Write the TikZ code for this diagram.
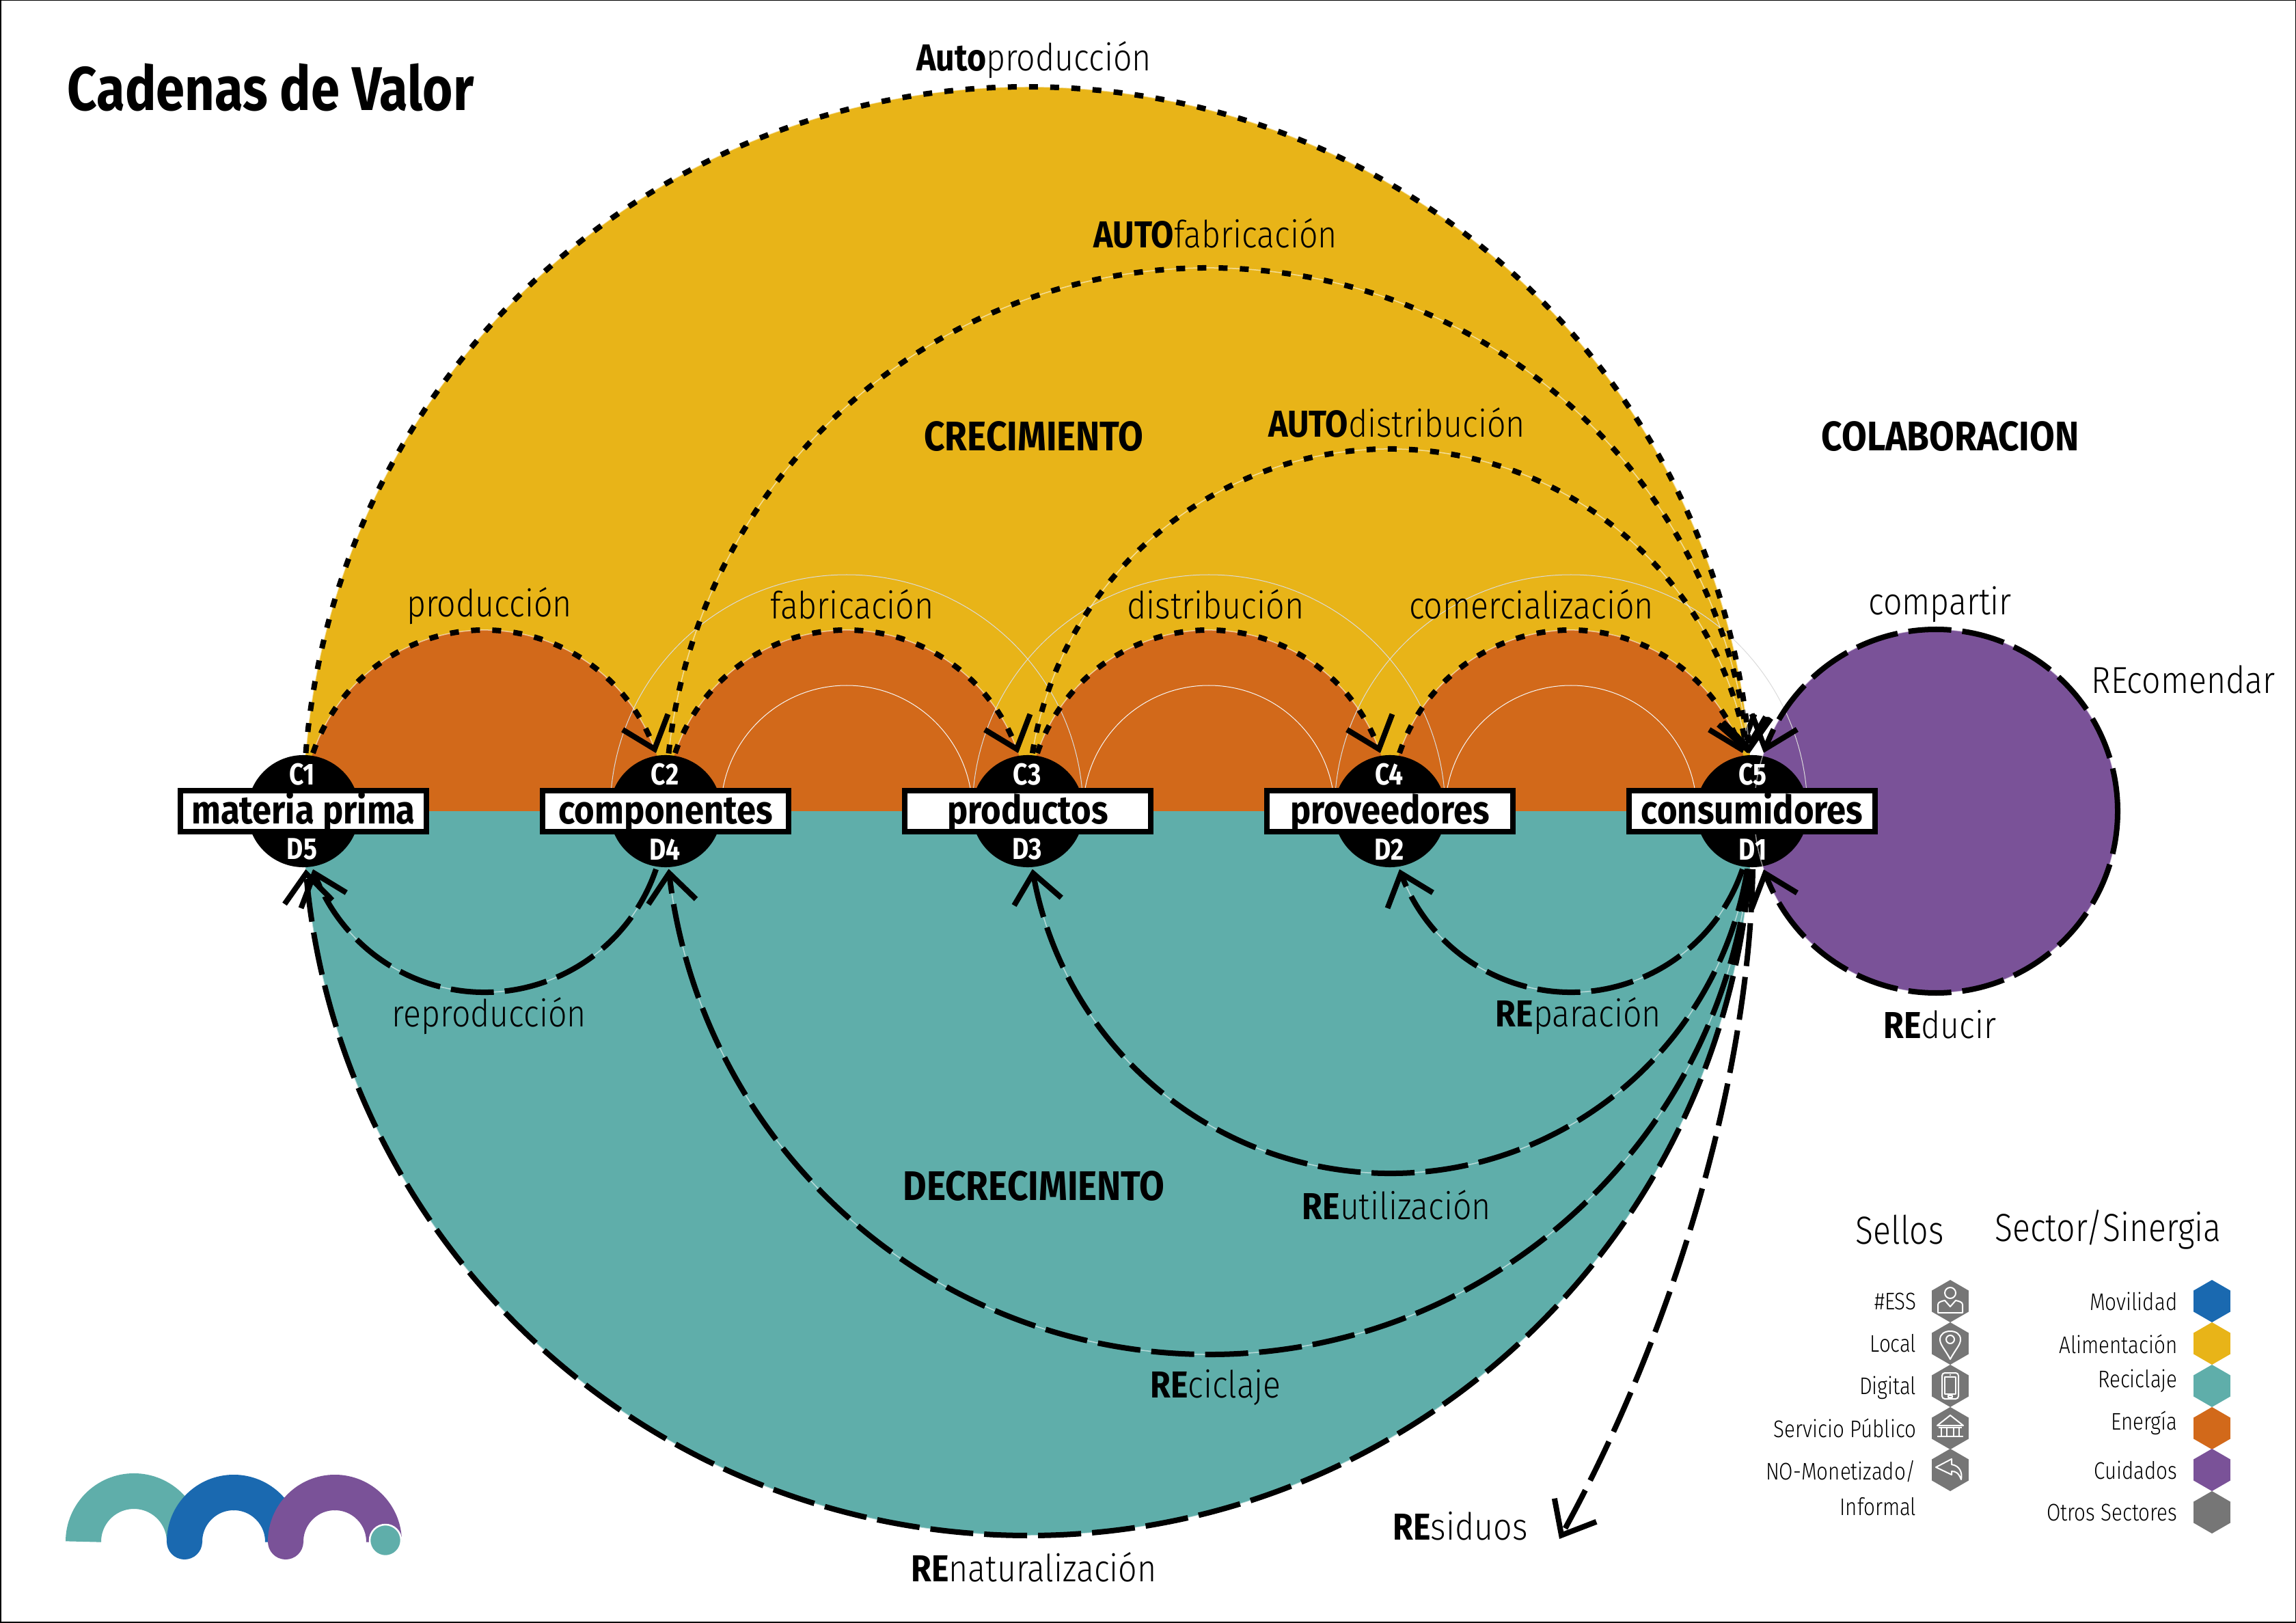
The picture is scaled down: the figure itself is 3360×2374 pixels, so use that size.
\documentclass[tikz,border=0pt]{standalone}
\usepackage{fontspec}
\usetikzlibrary{arrows.meta,bending,calc,shapes.geometric}
\newfontfamily\ltf[UprightFont={* Light},FakeStretch=0.88]{Fira Sans}
\newfontfamily\ltn[UprightFont={* Light},FakeStretch=0.84]{Fira Sans}
\newfontfamily\bdf[UprightFont={* Bold},FakeStretch=0.88]{Fira Sans}
\newfontfamily\bdn[UprightFont={* Bold},FakeStretch=0.84]{Fira Sans}
\newcommand{\B}[1]{{\bdf #1}}
\definecolor{cyel}{HTML}{E8B418}
\definecolor{cora}{HTML}{D2691A}
\definecolor{cteal}{HTML}{5FAEAA}
\definecolor{cpur}{HTML}{7A5298}
\definecolor{cblu}{HTML}{1A69B0}
\definecolor{cgra}{HTML}{767676}
\newcommand{\pxfont}[1]{\fontsize{#1}{#1}\selectfont}
% arc between the centres of two named nodes, trimmed to the node circle
\newcommand{\hubarc}[6]{%
  \draw[pale] ($(#1)!.5!(#2)+(#4:#3)$) arc[start angle=#4,end angle=#5,radius=#3];
  \draw[#6] ($(#1)!.5!(#2)+(#4:#3)$) arc[start angle=#4,end angle=#5,radius=#3];}
\tikzset{
  pale/.style={draw=white,draw opacity=.55,line width=.15mm},
  faint/.style={draw=#1,line width=.1mm},
  faint/.default={black!14},
  dotarc/.style={line width=.8mm,dash pattern=on 1.3mm off 1.8mm,-{Straight Barb[length=4.2mm,width=7mm,line width=.8mm]}},
  dasharc/.style={line width=.8mm,dash pattern=on 6.3mm off 1.6mm,-{Straight Barb[length=4.2mm,width=7mm,line width=.8mm]}},
  hub/.style={circle,fill=black,minimum size=1.64cm,inner sep=0pt},
  hublbl/.style={text=white,font=\bdn\pxfont{12.6},inner sep=0pt},
  boxn/.style={draw=black,fill=white,line width=.8mm,minimum width=3.6cm,minimum height=.6cm,inner sep=0pt,text height=.42cm,text depth=.06cm,font=\bdf\pxfont{16.4}},
  lbl/.style={font=\ltf\pxfont{15.6},text=black,inner sep=0pt},
  head/.style={font=\bdf\pxfont{17.2},text=black,inner sep=0pt},
  leg/.style={font=\ltn\pxfont{10},text=black,inner sep=0pt,anchor=east},
  ttl/.style={font=\ltn\pxfont{16.3},text=black,inner sep=0pt},
  hexn/.style={regular polygon,regular polygon sides=6,shape border rotate=30,minimum size=.62cm,inner sep=0pt,fill=#1},
  icon/.style={draw=white,line width=.2mm,line join=round},
  ring/.style={line width=.52cm}
}
\begin{document}
\begin{tikzpicture}[x=.01cm,y=.01cm]
\useasboundingbox (0,0) rectangle (3360,2374);
\fill[white] (0,0) rectangle (3360,2374);
\draw[black,line width=.3mm] (0,0) rectangle (3360,2374);
\coordinate (p1) at (444,1187);
\coordinate (p2) at (974,1187);
\coordinate (p3) at (1504,1187);
\coordinate (p4) at (2034,1187);
\coordinate (p5) at (2564,1187);
\coordinate (pc) at (2833,1187);
% areas
\fill[cyel] (p1) arc[start angle=180,end angle=0,radius=1060] -- cycle;
\fill[cora] (p1) arc[start angle=180,end angle=0,radius=265] -- cycle;
\fill[cora] (p2) arc[start angle=180,end angle=0,radius=265] -- cycle;
\fill[cora] (p3) arc[start angle=180,end angle=0,radius=265] -- cycle;
\fill[cora] (p4) arc[start angle=180,end angle=0,radius=265] -- cycle;
\fill[cteal] (p1) arc[start angle=180,end angle=360,radius=1060] -- cycle;
\fill[cpur] (pc) circle[radius=266];
% faint construction arcs
\foreach \a/\b in {p2/p3,p3/p4,p4/p5}{
  \draw[faint] ($(\a)!.5!(\b)+(180:346)$) arc[start angle=180,end angle=0,radius=346];
  \draw[faint=white!65!black!10] ($(\a)!.5!(\b)+(180:184)$) arc[start angle=180,end angle=0,radius=184];
}
% hubs
\node[hub] (n1) at (p1) {};
\node[hub] (n2) at (p2) {};
\node[hub] (n3) at (p3) {};
\node[hub] (n4) at (p4) {};
\node[hub] (n5) at (p5) {};
% growth arcs (dotted)
\hubarc{n1}{n2}{265}{161.3}{18.7}{dotarc}
\hubarc{n2}{n3}{265}{161.3}{18.7}{dotarc}
\hubarc{n3}{n4}{265}{161.3}{18.7}{dotarc}
\hubarc{n4}{n5}{265}{161.3}{18.7}{dotarc}
\hubarc{n3}{n5}{530}{170.8}{9.2}{dotarc}
\hubarc{n2}{n5}{795}{173.9}{6.1}{dotarc}
\hubarc{n1}{n5}{1060}{175.4}{4.6}{dotarc}
% degrowth arcs (dashed)
\hubarc{n1}{n2}{265}{-18.7}{-161.3}{dasharc}
\hubarc{n4}{n5}{265}{-18.7}{-161.3}{dasharc}
\hubarc{n3}{n5}{530}{-9.2}{-170.8}{dasharc}
\hubarc{n2}{n5}{795}{-6.1}{-173.9}{dasharc}
\hubarc{n1}{n5}{1060}{-4.6}{-175.4}{dasharc}
% collaboration circle
\draw[pale] (pc) circle[radius=266];
\draw[dasharc] ($(pc)+(0:266)$) arc[start angle=0,end angle=161.3,radius=266];
\draw[dasharc] ($(pc)+(0:266)$) arc[start angle=0,end angle=-161.3,radius=266];
% residuos
\coordinate (res) at (2282,122);
\draw[dasharc] ($(n5)+(1,-85)$) .. controls (2560,800) and (2450,424) .. (res);
% boxes
\node[boxn] (b1) at (p1) {materia prima};
\node[boxn] (b2) at (p2) {componentes};
\node[boxn] (b3) at (p3) {productos};
\node[boxn] (b4) at (p4) {proveedores};
\node[boxn] (b5) at (p5) {consumidores};
\node[hublbl] (c1) at (442,1241) {C1};
\node[hublbl] (c2) at (973,1241) {C2};
\node[hublbl] (c3) at (1503,1241) {C3};
\node[hublbl] (c4) at (2033,1241) {C4};
\node[hublbl] (c5) at (2565,1241) {C5};
\node[hublbl] (d5) at (442,1131) {D5};
\node[hublbl] (d4) at (973,1131) {D4};
\node[hublbl] (d3) at (1503,1131) {D3};
\node[hublbl] (d2) at (2033,1131) {D2};
\node[hublbl] (d1) at (2565,1131) {D1};
% text
\node[font=\bdn\pxfont{25.7},inner sep=0pt] (title) at (396,2246) {Cadenas de Valor};
\node[lbl] (t1) at (1513,2286) {\B{Auto}producción};
\node[lbl] (t2) at (1779,2032) {\B{AUTO}fabricación};
\node[lbl] (t3) at (2044,1755) {\B{AUTO}distribución};
\node[head] (t4) at (1513,1735) {CRECIMIENTO};
\node[head] (t5) at (2854,1735) {COLABORACION};
\node[lbl] (t6) at (716,1487) {producción};
\node[lbl] (t7) at (1247,1490) {fabricación};
\node[lbl] (t8) at (1779,1490) {distribución};
\node[lbl] (t9) at (2241,1490) {comercialización};
\node[lbl] (t10) at (2839,1490) {compartir};
\node[lbl] (t11) at (3195,1380) {REcomendar};
\node[lbl] (t12) at (2839,875) {\B{RE}ducir};
\node[lbl] (t13) at (716,887) {reproducción};
\node[lbl] (t14) at (2310,887) {\B{RE}paración};
\node[head] (t15) at (1513,638) {DECRECIMIENTO};
\node[lbl] (t16) at (2044,611) {\B{RE}utilización};
\node[lbl] (t17) at (1779,344) {\B{RE}ciclaje};
\node[lbl] (t18) at (1513,81) {\B{RE}naturalización};
\node[lbl] (t19) at (2137,141) {\B{RE}siduos};
% legend
\node[ttl] (s1) at (2780,574) {Sellos};
\node[ttl] (s2) at (3085,575) {Sector/Sinergia};
\foreach \n/\y/\t in {a/470/\#ESS,b/408/Local,c/343/Digital,d/284/Servicio Público,e/221/{NO-Monetizado/},f/169/Informal}
  \node[leg] (l\n) at (2805,\y) {\t};
\foreach \n/\y/\t in {a/470/Movilidad,b/407/Alimentación,c/353/Reciclaje,d/292/Energía,e/223/Cuidados,f/161/Otros Sectores}
  \node[leg] (r\n) at (3187,\y) {\t};
\node[hexn=cgra] (h1) at (2854,470) {};
\node[hexn=cgra] (h2) at (2854,408) {};
\node[hexn=cgra] (h3) at (2854,346) {};
\node[hexn=cgra] (h4) at (2854,284) {};
\node[hexn=cgra] (h5) at (2854,223) {};
\node[hexn=cblu] (k1) at (3237,470) {};
\node[hexn=cyel] (k2) at (3237,408) {};
\node[hexn=cteal] (k3) at (3237,346) {};
\node[hexn=cora] (k4) at (3237,284) {};
\node[hexn=cpur] (k5) at (3237,223) {};
\node[hexn=cgra] (k6) at (3237,161) {};
% icons
\begin{scope}[shift={(h1.center)}]
 \draw[icon] (0,12) ellipse[x radius=8,y radius=8];
 \draw[icon] (-18,-17) -- (18,-17) -- (18,-5) .. controls (18,-1) and (12,0) .. (8,1) -- (0,-8) -- (-8,1) .. controls (-12,0) and (-18,-1) .. (-18,-5) -- cycle;
\end{scope}
\begin{scope}[shift={(h2.center)}]
 \draw[icon] (0,-23) .. controls (-8,-8) and (-15,-2) .. (-15,6) .. controls (-15,14) and (-8,18) .. (0,18) .. controls (8,18) and (15,14) .. (15,6) .. controls (15,-2) and (8,-8) .. (0,-23) -- cycle;
 \draw[icon] (0,6) circle[radius=6];
\end{scope}
\begin{scope}[shift={(h3.center)}]
 \draw[icon,rounded corners=.4mm] (-12,-19) rectangle (12,19);
 \draw[icon] (-8,-12) rectangle (8,13);
 \draw[icon] (-3,-17) rectangle (3,-14);
 \fill[white] (0,16) circle[radius=1.2];
\end{scope}
\begin{scope}[shift={(h4.center)}]
 \draw[icon] (-19,4) -- (0,19) -- (19,4) -- cycle;
 \draw[icon] (-17,1) -- (17,1);
 \foreach \x in {-13,-5,5,13}\draw[icon] (\x,1) -- (\x,-11);
 \draw[icon] (-19,-12) -- (19,-12);
\end{scope}
\begin{scope}[shift={(h5.center)}]
 \draw[icon] (-21,4) -- (2,16) -- (2,8) .. controls (14,6) and (18,-4) .. (16,-14) .. controls (12,-4) and (8,-2) .. (2,-2) -- (2,-7) -- cycle;
\end{scope}
% logo
\coordinate (lg1) at (196,118);
\coordinate (lg2) at (342,118);
\coordinate (lg3) at (490,118);
\coordinate (lg4) at (564,120);
\draw[cteal,ring] ($(lg1)+(180:74)$) arc[start angle=180,end angle=0,radius=74];
\draw[cblu,ring,line cap=round] ($(lg2)+(180:72)$) arc[start angle=180,end angle=90,radius=72];
\draw[cblu,ring] ($(lg2)+(90:72)$) arc[start angle=90,end angle=0,radius=72];
\draw[cpur,ring,line cap=round] ($(lg3)+(180:72)$) arc[start angle=180,end angle=90,radius=72];
\draw[cpur,ring] ($(lg3)+(90:72)$) arc[start angle=90,end angle=0,radius=72];
\filldraw[fill=cteal,draw=white,line width=.25mm] (lg4) circle[radius=23];
\end{tikzpicture}
\end{document}
